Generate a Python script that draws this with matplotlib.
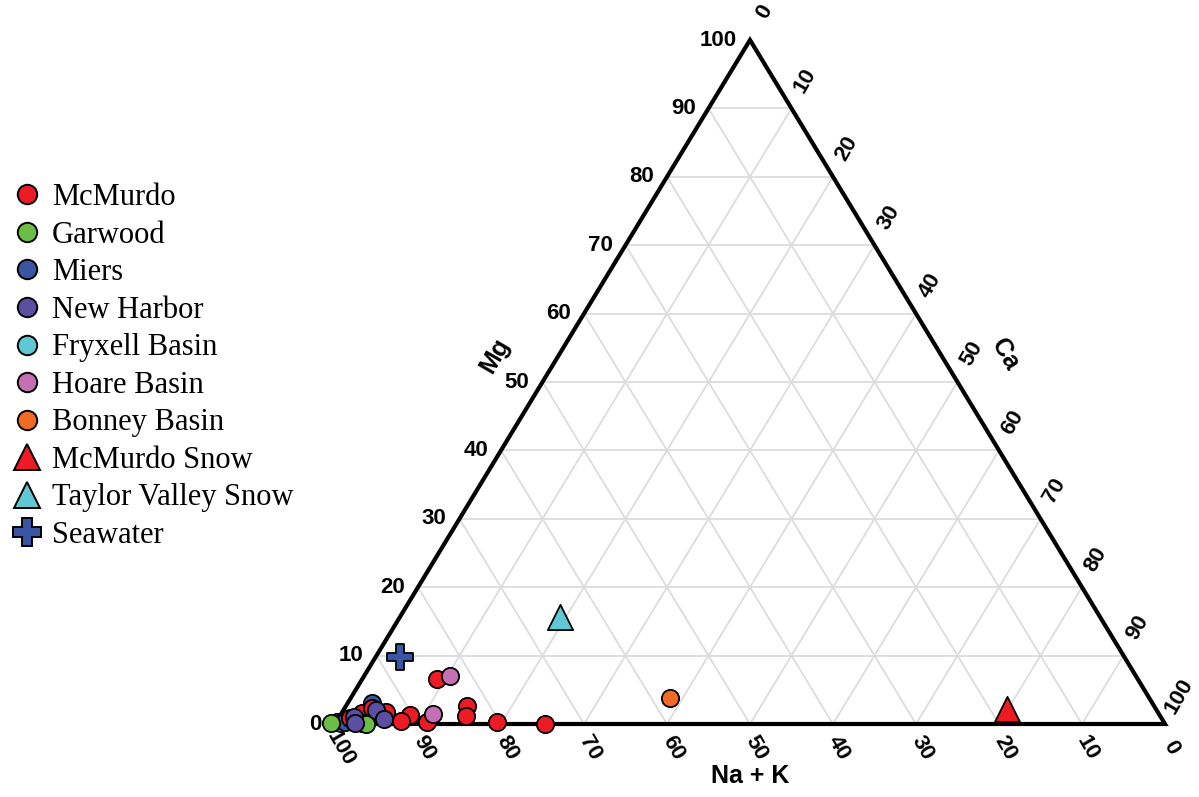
#!/usr/bin/env python3
"""ternary cation plot: Na+K / Mg / Ca"""
import matplotlib
matplotlib.use('Agg')
import matplotlib.pyplot as plt
from matplotlib.lines import Line2D

# percentages, Na+K = 100 - Mg - Ca
mcmurdo_mg = [6.6, 2.6, 1.2, 0.3, 0.0, 0.3, 1.3, 0.4, 1.6, 2.3, 1.8, 0.2, 0.9]
mcmurdo_ca = [9.0, 14.6, 15.2, 19.4, 25.3, 10.9, 8.4, 7.8, 2.5, 3.3, 5.2, 3.2, 1.4]
garwood_mg = [0.2, 0.0]
garwood_ca = [-0.6, 3.7]
miers_mg = [3.1, 0.3]
miers_ca = [2.9, 1.1]
newharbor_mg = [1.0, 0.2, 2.0, 0.8]
newharbor_ca = [1.8, 2.3, 3.9, 5.5]
fryxell_mg = [0.3, 0.2]
fryxell_ca = [0.1, 0.6]
hoare_mg = [7.0, 1.5]
hoare_ca = [10.4, 11.1]
bonney_mg = [3.8]
bonney_ca = [38.5]
mcsnow_mg = [2.2]
mcsnow_ca = [79.9]
tvsnow_mg = [15.6]
tvsnow_ca = [19.3]
sea_mg = [9.8]
sea_ca = [2.9]

ticks = [0, 10, 20, 30, 40, 50, 60, 70, 80, 90, 100]

colors = {
    'McMurdo': '#ed1c24',
    'Garwood': '#6cbd45',
    'Miers': '#3a55a4',
    'New Harbor': '#5b4fa1',
    'Fryxell Basin': '#5fc8d4',
    'Hoare Basin': '#c56fb4',
    'Bonney Basin': '#f26b25',
}


def to_xy(mg, ca):
    """ternary (Mg, Ca) -> plot coords, x = Ca + Mg/2, y = Mg"""
    x = [c + m / 2 for m, c in zip(mg, ca)]
    return x, list(mg)


fig = plt.figure(figsize=(11.99, 7.97), dpi=100)
ax = fig.add_axes([335 / 1199, 73 / 797, 830 / 1199, 684 / 797])
ax.set_xlim(0, 100)
ax.set_ylim(0, 100)
ax.axis('off')

# grid
grid_kw = dict(color='#dcdcdc', lw=1.3, zorder=1)
for v in ticks[1:-1]:
    ax.plot([v / 2, 100 - v / 2], [v, v], **grid_kw)            # Mg const
    ax.plot([v, 50 + v / 2], [0, 100 - v], **grid_kw)          # Ca const
    ax.plot([100 - v, 50 - v / 2], [0, 100 - v], **grid_kw)    # Na+K const

# frame
ax.plot([0, 50, 100, 0], [0, 100, 0, 0], color='black', lw=3.0,
        solid_joinstyle='miter', zorder=2, clip_on=False)

tick_font = dict(fontfamily='Liberation Sans', fontweight='bold', fontsize=16)
for v in ticks:
    # Mg on left edge
    ax.annotate(str(v), (v / 2, v), xytext=(-13, 0), textcoords='offset pixels',
                ha='right', va='center', **tick_font)
    # Ca on right edge
    ax.annotate(str(v), (50 + v / 2, 100 - v), xytext=(14, 28),
                textcoords='offset pixels', ha='center', va='center',
                rotation=60, **tick_font)
    # Na+K on bottom
    ax.annotate(str(v), (100 - v, 0), xytext=(6, -24),
                textcoords='offset pixels', ha='center', va='center',
                rotation=-60, **tick_font)

title_font = dict(fontfamily='Liberation Sans', fontweight='bold', fontsize=18)
ax.annotate('Mg', (26.5, 53), xytext=(-60, 6), textcoords='offset pixels',
            ha='center', va='center', rotation=60, **title_font)
ax.annotate('Ca', (73, 54), xytext=(64, 0), textcoords='offset pixels',
            ha='center', va='center', rotation=-60, **title_font)
ax.annotate('Na + K', (50, 0), xytext=(0, -52), textcoords='offset pixels',
            ha='center', va='center', **title_font)

# points, drawn so overlaps look like the source
circ_kw = dict(marker='o', s=155, edgecolors='black', linewidths=1.3,
               zorder=5, clip_on=False)
series = [
    ('Fryxell Basin', fryxell_mg, fryxell_ca),
    ('Miers', miers_mg, miers_ca),
    ('McMurdo', mcmurdo_mg, mcmurdo_ca),
    ('Garwood', garwood_mg, garwood_ca),
    ('New Harbor', newharbor_mg, newharbor_ca),
    ('Hoare Basin', hoare_mg, hoare_ca),
    ('Bonney Basin', bonney_mg, bonney_ca),
]
for name, mg, ca in series:
    x, y = to_xy(mg, ca)
    ax.scatter(x, y, color=colors[name], **circ_kw)

x, y = to_xy(mcsnow_mg, mcsnow_ca)
ax.scatter(x, y, marker='^', s=330, color='#ed1c24', edgecolors='black',
           linewidths=1.3, zorder=5, clip_on=False)
x, y = to_xy(tvsnow_mg, tvsnow_ca)
ax.scatter(x, y, marker='^', s=330, color='#5fc8d4', edgecolors='black',
           linewidths=1.3, zorder=5, clip_on=False)
x, y = to_xy(sea_mg, sea_ca)
ax.scatter(x, y, marker='P', s=330, color='#3a55a4', edgecolors='black',
           linewidths=1.3, zorder=5, clip_on=False)

# legend
handles = []
for name in ['McMurdo', 'Garwood', 'Miers', 'New Harbor', 'Fryxell Basin',
             'Hoare Basin', 'Bonney Basin']:
    handles.append(Line2D([], [], ls='none', marker='o', ms=14,
                          mfc=colors[name], mec='black', mew=1.4, label=name))
handles.append(Line2D([], [], ls='none', marker='^', ms=19, mfc='#ed1c24',
                      mec='black', mew=1.4, label='McMurdo Snow'))
handles.append(Line2D([], [], ls='none', marker='^', ms=19, mfc='#5fc8d4',
                      mec='black', mew=1.4, label='Taylor Valley Snow'))
handles.append(Line2D([], [], ls='none', marker='P', ms=20, mfc='#3a55a4',
                      mec='black', mew=1.4, label='Seawater'))
fig.legend(handles=handles, loc='upper left', bbox_to_anchor=(0.005, 0.778),
           frameon=False, prop={'family': 'Liberation Serif', 'size': 22},
           handlelength=1.0, handletextpad=0.3, labelspacing=0.28,
           borderaxespad=0.0, borderpad=0.2)

fig.savefig('out.png', dpi=100)
